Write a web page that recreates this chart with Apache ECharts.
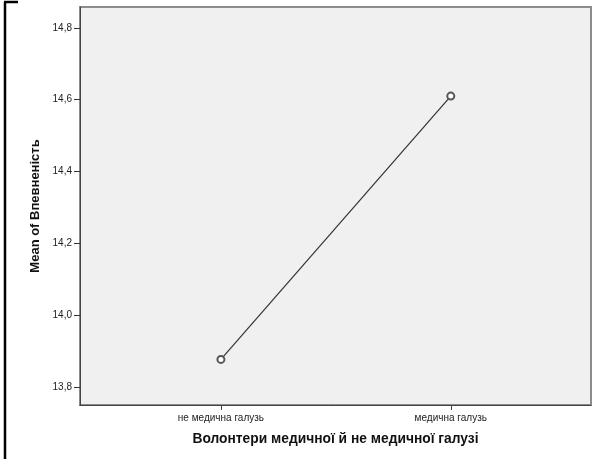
<!DOCTYPE html>
<html>
<head>
<meta charset="utf-8">
<style>
  html, body { margin: 0; padding: 0; background: #ffffff; }
  #chart { width: 593px; height: 459px; }
</style>
<script src="https://cdn.jsdelivr.net/npm/echarts@6/dist/echarts.min.js"></script>
</head>
<body>
<div id="chart"></div>
<script>
// Group labels and mean scores
const categories = ['не медична галузь', 'медична галузь'];
const meanValues = [13.877, 14.610];
const yTicks = [13.8, 14.0, 14.2, 14.4, 14.6, 14.8];

const chart = echarts.init(document.getElementById('chart'), null, { renderer: 'canvas' });

const points = meanValues.map((v, i) => [i, v]);
const fontFamily = 'Liberation Sans, Arial, sans-serif';

chart.setOption({
  animation: false,
  backgroundColor: '#ffffff',
  grid: {
    left: 80, top: 7, right: 2, bottom: 54,
    show: true,
    backgroundColor: '#f0f0f0',
    borderColor: '#8c8c8c',
    borderWidth: 2
  },
  xAxis: {
    type: 'value',
    min: -0.613,
    max: 1.61,
    name: 'Волонтери медичної й не медичної галузі',
    nameLocation: 'middle',
    nameGap: 27,
    nameTextStyle: { fontFamily, fontSize: 13.8, fontWeight: 'bold', color: '#111' },
    splitLine: { show: false },
    axisLine: { show: true, onZero: false, lineStyle: { color: '#444', width: 1 } },
    axisTick: { show: true, customValues: [0, 1], length: 5, lineStyle: { color: '#444' } },
    axisLabel: {
      customValues: [0, 1],
      formatter: (v) => categories[Math.round(v)] || '',
      fontFamily, fontSize: 10, color: '#222', margin: 8
    }
  },
  yAxis: {
    type: 'value',
    min: 13.75,
    max: 14.858,
    name: 'Mean of Впевненість',
    nameLocation: 'middle',
    nameGap: 37,
    nameTextStyle: { fontFamily, fontSize: 13, fontWeight: 'bold', color: '#111' },
    splitLine: { show: false },
    axisLine: { show: true, onZero: false, lineStyle: { color: '#444', width: 1 } },
    axisTick: { show: true, customValues: yTicks, length: 6, lineStyle: { color: '#333' } },
    axisLabel: {
      customValues: yTicks,
      formatter: (v) => v.toFixed(1).replace('.', ','),
      fontFamily, fontSize: 10, color: '#222', margin: 8
    }
  },
  series: [{
    type: 'line',
    data: points,
    symbol: 'emptyCircle',
    symbolSize: 7,
    lineStyle: { color: '#333', width: 1.2 },
    itemStyle: { color: '#555', borderColor: '#555', borderWidth: 1 }
  }],
  graphic: [
    { type: 'line', shape: { x1: 5, y1: 2, x2: 5, y2: 459 }, style: { stroke: '#000', lineWidth: 2.5 } },
    { type: 'line', shape: { x1: 4, y1: 2, x2: 18, y2: 2 }, style: { stroke: '#000', lineWidth: 2.5 } }
  ]
});
</script>
</body>
</html>
